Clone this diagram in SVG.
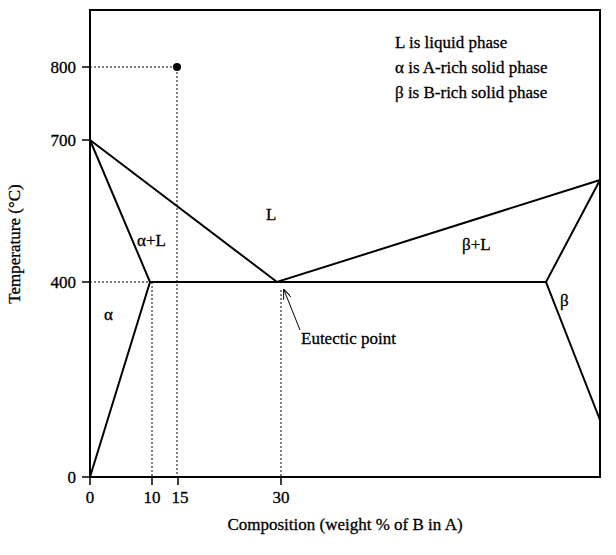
<svg xmlns="http://www.w3.org/2000/svg" width="616" height="555" viewBox="0 0 616 555">
<defs>
<style>
text{font-family:"Liberation Serif",serif;font-size:17px;fill:#000;stroke:#000;stroke-width:0.3}
.s{stroke:#000;stroke-width:2;fill:none}
.d{stroke:#000;stroke-width:1;stroke-dasharray:2,2;fill:none}
.t{stroke:#000;stroke-width:1.5}
</style>
<marker id="ah" markerWidth="10" markerHeight="8" refX="9" refY="4" orient="auto" markerUnits="userSpaceOnUse"><path d="M0,0 L10,4 L0,8" fill="none" stroke="#000"/></marker>
</defs>
<rect fill="#fff" width="616" height="555"/>
<g id="frame"><rect x="90" y="10" width="510" height="467" class="s"/></g>
<g id="connectors">
<polyline class="s" points="90,140 277,282 600,180"/>
<polyline class="s" points="90,477 150,282 90,140"/>
<line class="s" x1="150" y1="282" x2="546" y2="282"/>
<polyline class="s" points="600,180 546,282 600,420"/>
<path class="d" d="M90,67H177V477M152,282V477M281,290V477M90,282H150"/>
<line x1="300" y1="330" x2="284" y2="290" stroke="#000" marker-end="url(#ah)"/>
<path class="t" d="M82,67H90M82,140H90M82,282H90M82,477H90M90,477V485M152,477V485M178,477V485M281,477V485"/>
</g>
<g id="point"><circle cx="177" cy="67" r="4"/></g>
<g id="labels">
<text x="395" y="48">L is liquid phase</text>
<text x="395" y="73">α is A-rich solid phase</text>
<text x="395" y="98">β is B-rich solid phase</text>
<text x="266" y="220">L</text>
<text x="137" y="246">α+L</text>
<text x="462" y="250">β+L</text>
<text x="104" y="320">α</text>
<text x="560" y="306">β</text>
<text x="301" y="344">Eutectic point</text>
<text x="76" y="73" text-anchor="end">800</text>
<text x="76" y="146" text-anchor="end">700</text>
<text x="76" y="288" text-anchor="end">400</text>
<text x="76" y="483" text-anchor="end">0</text>
<text x="90" y="503" text-anchor="middle">0</text>
<text x="152" y="503" text-anchor="middle">10</text>
<text x="180" y="503" text-anchor="middle">15</text>
<text x="281" y="503" text-anchor="middle">30</text>
<text x="345" y="530" text-anchor="middle">Composition (weight % of B in A)</text>
<text transform="translate(20,244) rotate(-90)" text-anchor="middle">Temperature (°C)</text>
</g>
</svg>
